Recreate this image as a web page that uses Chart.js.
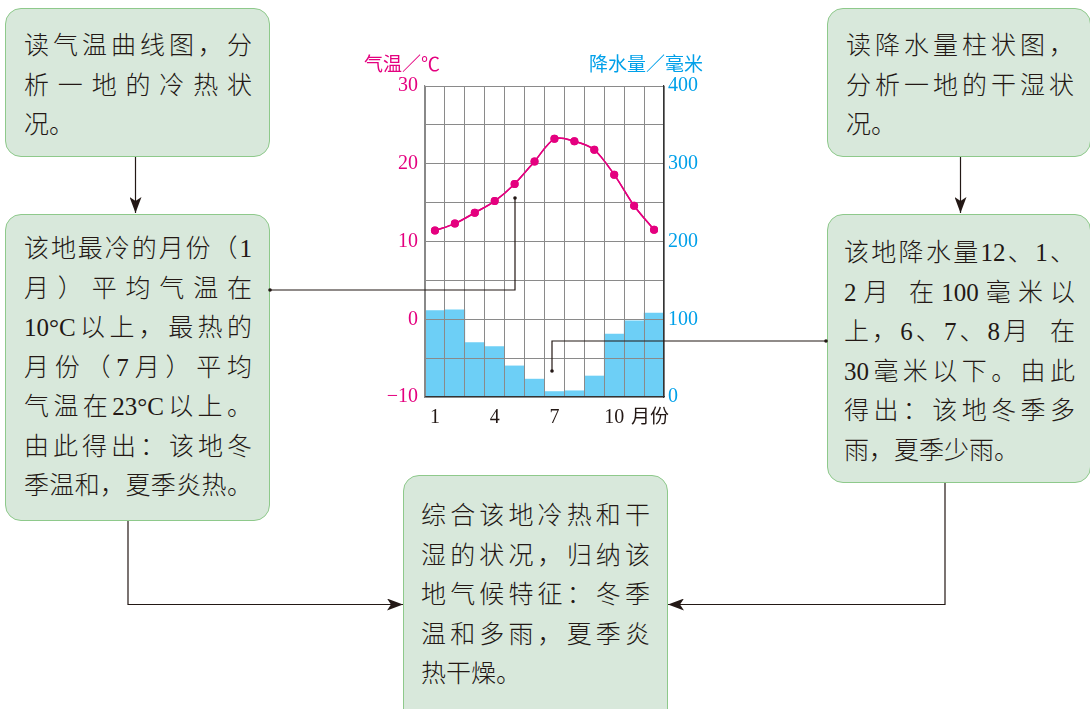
<!DOCTYPE html>
<html>
<head>
<meta charset="utf-8">
<script src="https://cdn.jsdelivr.net/npm/chart.js@4.4.1/dist/chart.umd.min.js"></script>
<style>
html, body { margin: 0; padding: 0; background: #fff; }
body { width: 1090px; height: 709px; position: relative; overflow: hidden;
       font-family: "Liberation Serif", "Noto Sans CJK SC", serif; color: #231815; }
.box { position: absolute; box-sizing: border-box; background: #d8e8db;
       border: 1.5px solid #8ec98b; border-radius: 16px;
       font-size: 25px; line-height: 39.5px; font-weight: 300; }
.box div { text-align: justify; text-align-last: justify; }
.box div.last { text-align-last: left; }
#chartWrap { position: absolute; left: 355px; top: 50px; width: 360px; height: 380px; }
.axisTitle { position: absolute; font-size: 19px; line-height: 20px; white-space: nowrap; }
svg { position: absolute; left: 0; top: 0; }
</style>
</head>
<body>

<div class="box" style="left:5px;top:8px;width:265px;height:149px;padding:17px 17px 0 18px;">
  <div>读气温曲线图，分</div>
  <div>析一地的冷热状</div>
  <div class="last">况。</div>
</div>

<div class="box" style="left:5px;top:214px;width:265px;height:307px;padding:14px 17px 0 18px;">
  <div>该地最冷的月份（1</div>
  <div>月）平均气温在</div>
  <div>10°C以上，最热的</div>
  <div>月份（7月）平均</div>
  <div>气温在23°C以上。</div>
  <div>由此得出：该地冬</div>
  <div>季温和，夏季炎热。</div>
</div>

<div class="box" style="left:827px;top:8px;width:264px;height:149px;padding:17px 16px 0 18px;">
  <div>读降水量柱状图，</div>
  <div>分析一地的干湿状</div>
  <div class="last">况。</div>
</div>

<div class="box" style="left:827px;top:214px;width:264px;height:269px;padding:18px 15px 0 16px;">
  <div>该地降水量12、1、</div>
  <div>2月 在100毫米以</div>
  <div>上，6、7、8月&nbsp; 在</div>
  <div>30毫米以下。由此</div>
  <div>得出：该地冬季多</div>
  <div class="last">雨，夏季少雨。</div>
</div>

<div class="box" style="left:403px;top:475px;width:265px;height:260px;padding:20px 17px 0 17px;">
  <div>综合该地冷热和干</div>
  <div>湿的状况，归纳该</div>
  <div>地气候特征：冬季</div>
  <div>温和多雨，夏季炎</div>
  <div class="last">热干燥。</div>
</div>

<div id="chartWrap"><canvas id="climateChart" width="360" height="380"></canvas></div>

<div class="axisTitle" style="left:364px;top:55px;color:#e4007f;">气温／℃</div>
<div class="axisTitle" style="left:589px;top:55px;color:#00a0e9;">降水量／毫米</div>
<div class="axisTitle" style="left:631px;top:407px;color:#231815;">月份</div>

<svg width="1090" height="709">
  <defs>
    <marker id="arrow" viewBox="0 0 16 12" refX="16" refY="6" markerWidth="16" markerHeight="12"
            orient="auto" markerUnits="userSpaceOnUse">
      <path d="M0,0 L16,6 L0,12 L4,6 Z" fill="#231815"/>
    </marker>
  </defs>
  <g fill="none" stroke="#231815" stroke-width="1.2">
    <path d="M135.5,157 V213" marker-end="url(#arrow)"/>
    <path d="M960.5,157 V213" marker-end="url(#arrow)"/>
    <path d="M270,290 H515 V198"/>
    <path d="M826,341 H552 V371"/>
    <path d="M128,521 V604.5 H403" marker-end="url(#arrow)"/>
    <path d="M945,483 V604.5 H668" marker-end="url(#arrow)"/>
  </g>
  <g fill="#231815">
    <circle cx="270" cy="290" r="1.8"/>
    <circle cx="515" cy="198" r="1.8"/>
    <circle cx="826" cy="341" r="1.8"/>
    <circle cx="552" cy="371" r="1.8"/>
  </g>
</svg>

<script>
// monthly values
const months = ["1", "2", "3", "4", "5", "6", "7", "8", "9", "10", "11", "12"];
const temperature = [11.4, 12.3, 13.7, 15.2, 17.4, 20.3, 23.2, 22.9, 21.8, 18.6, 14.6, 11.5];
const precipitation = [111, 112, 70, 65, 40, 23, 7, 8, 27, 81, 98, 108];
const shownMonths = ["1", "4", "7", "10"];
const tempRange = [-10, 30];
const rainRange = [0, 400];

const TEMP_COLOR = "#e4007f";
const RAIN_COLOR = "#00a0e9";
const GRID_COLOR = "#8a8a8a";
let climateChart;

// keep the temperature line above the grid
const lineOnTop = {
    id: "lineOnTop",
    afterDraw(chart){
        chart.getDatasetMeta(1).controller.draw();
    }
};

window.addEventListener("DOMContentLoaded", ()=>{
    drawClimateChart();
});

function drawClimateChart(){
    const ctx = document.getElementById("climateChart");
    const tickFont = {family: "Liberation Serif", size: 20};

    climateChart = new Chart(ctx, {
        type: "bar",
        data: {
            labels: months,
            datasets: [{
                label: "降水量",
                data: precipitation,
                yAxisID: "yRain",
                backgroundColor: "#6dcff6",
                borderWidth: 0,
                barPercentage: 1,
                categoryPercentage: 1,
                order: 2
            }, {
                type: "line",
                label: "气温",
                data: temperature,
                yAxisID: "yTemp",
                borderColor: TEMP_COLOR,
                backgroundColor: TEMP_COLOR,
                borderWidth: 1.5,
                pointRadius: 4,
                pointBorderWidth: 0,
                tension: 0.3,
                order: 1
            }]
        },
        options: {
            responsive: false,
            animation: false,
            layout: {padding: {top: 36, left: 0, right: 0, bottom: 0}},
            plugins: {legend: {display: false}, tooltip: {enabled: false}},
            scales: {
                x: {
                    offset: true,
                    grid: {color: GRID_COLOR, lineWidth: 1, offset: true, drawTicks: false, z: 1},
                    border: {color: "#333", width: 1.2, z: 1},
                    ticks: {
                        font: tickFont, color: "#231815", padding: 9,
                        autoSkip: false, maxRotation: 0,
                        callback: function(v){
                            const m = this.getLabelForValue(v);
                            return shownMonths.includes(m) ? m : "";
                        }
                    },
                    afterFit: s => { s.height = 33; }
                },
                yTemp: {
                    position: "left",
                    min: tempRange[0], max: tempRange[1],
                    grid: {color: GRID_COLOR, lineWidth: 1, drawTicks: false, z: 1},
                    border: {color: "#888", width: 1.2, z: 1},
                    ticks: {
                        stepSize: 5, font: tickFont, color: TEMP_COLOR, padding: 7,
                        callback: v => v % 10 === 0 ? (v < 0 ? "\u2212" + Math.abs(v) : String(v)) : ""
                    },
                    afterFit: s => { s.width = 70; }
                },
                yRain: {
                    position: "right",
                    min: rainRange[0], max: rainRange[1],
                    grid: {drawOnChartArea: false, drawTicks: false},
                    border: {color: "#333", width: 1.2, z: 1},
                    ticks: {stepSize: 100, font: tickFont, color: RAIN_COLOR, padding: 4},
                    afterFit: s => { s.width = 51; }
                }
            }
        },
        plugins: [lineOnTop]
    });
}
</script>
</body>
</html>
